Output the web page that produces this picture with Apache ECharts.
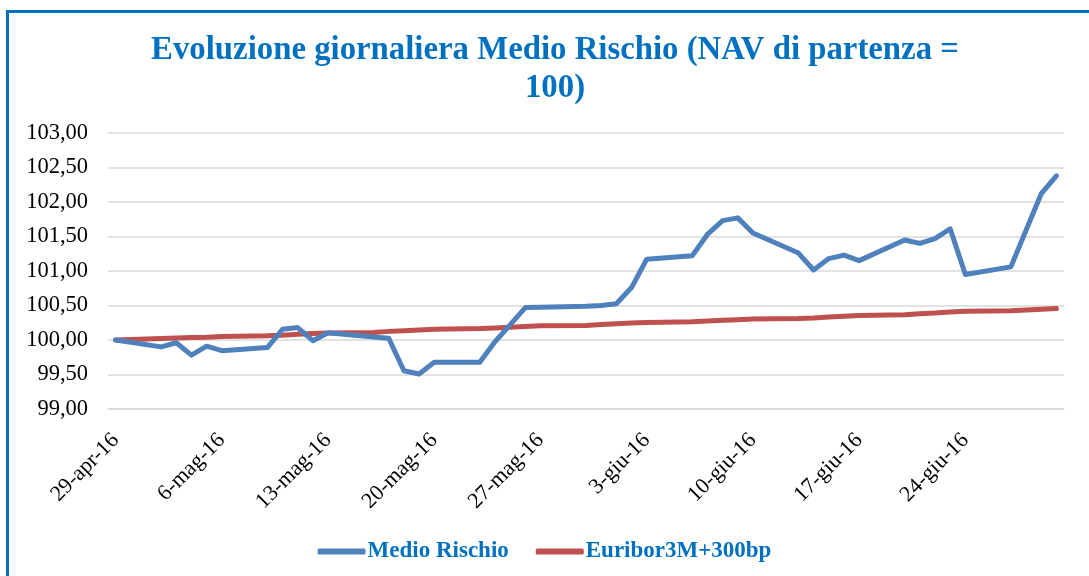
<!DOCTYPE html>
<html>
<head>
<meta charset="utf-8">
<script src="https://cdn.jsdelivr.net/npm/echarts@6/dist/echarts.min.js"></script>
<style>
html,body{margin:0;padding:0;background:#fff;}
#chart{width:1089px;height:576px;}
</style>
</head>
<body>
<div id="chart"></div>
<script>
// Trading days (x values)
const dates = [
  '2016-04-29','2016-05-02','2016-05-03','2016-05-04','2016-05-05','2016-05-06',
  '2016-05-09','2016-05-10','2016-05-11','2016-05-12','2016-05-13',
  '2016-05-16','2016-05-17','2016-05-18','2016-05-19','2016-05-20',
  '2016-05-23','2016-05-24','2016-05-25','2016-05-26','2016-05-27',
  '2016-05-30','2016-05-31','2016-06-01','2016-06-02','2016-06-03',
  '2016-06-06','2016-06-07','2016-06-08','2016-06-09','2016-06-10',
  '2016-06-13','2016-06-14','2016-06-15','2016-06-16','2016-06-17',
  '2016-06-20','2016-06-21','2016-06-22','2016-06-23','2016-06-24',
  '2016-06-27','2016-06-28','2016-06-29','2016-06-30'
];
const medioRischio = [
  100.00, 99.90, 99.96, 99.78, 99.91, 99.845,
  99.89, 100.155, 100.18, 99.99, 100.105,
  100.045, 100.025, 99.555, 99.507, 99.677,
  99.677, 99.975, 100.22, 100.47, 100.475,
  100.49, 100.50, 100.525, 100.76, 101.17,
  101.22, 101.53, 101.73, 101.77, 101.55,
  101.26, 101.015, 101.18, 101.23, 101.15,
  101.45, 101.40, 101.47, 101.61, 100.95,
  101.06, 101.59, 102.12, 102.38
];
const euribor = [
  100.00, 100.02, 100.03, 100.035, 100.04, 100.05,
  100.06, 100.07, 100.085, 100.095, 100.10,
  100.11, 100.125, 100.135, 100.145, 100.155,
  100.165, 100.175, 100.185, 100.195, 100.205,
  100.21, 100.225, 100.235, 100.245, 100.255,
  100.265, 100.275, 100.285, 100.295, 100.305,
  100.31, 100.32, 100.335, 100.345, 100.355,
  100.365, 100.38, 100.39, 100.405, 100.415,
  100.425, 100.435, 100.445, 100.455
];
const seriesNames = ['Medio Rischio', 'Euribor3M+300bp'];
const monthNames = ['gen','feb','mar','apr','mag','giu','lug','ago','set','ott','nov','dic'];
const titleText = 'Evoluzione giornaliera Medio Rischio (NAV di partenza =\n100)';

// Calendar-day categories (date axis like Excel)
const calendar = [];
{
  const start = new Date(dates[0] + 'T00:00:00Z');
  const end = new Date(dates[dates.length - 1] + 'T00:00:00Z');
  for (let t = start.getTime(); t <= end.getTime(); t += 86400000) {
    calendar.push(new Date(t).toISOString().slice(0, 10));
  }
}
function fmtDate(s) {
  const p = s.split('-');
  return (+p[2]) + '-' + monthNames[+p[1] - 1] + '-' + p[0].slice(2);
}

const chart = echarts.init(document.getElementById('chart'), null, {renderer: 'canvas'});
const serif = '"Liberation Serif", "Times New Roman", serif';
chart.setOption({
  animation: false,
  backgroundColor: '#ffffff',
  title: {
    text: titleText,
    left: 550,
    top: 27,
    textAlign: 'center',
    textStyle: {
      fontFamily: serif,
      fontWeight: 'bold',
      fontSize: 32.8,
      lineHeight: 38,
      color: '#0070C0'
    }
  },
  graphic: [{
    type: 'rect',
    shape: {x: 7.5, y: 11.5, width: 1100, height: 620},
    style: {fill: 'none', stroke: '#0070C0', lineWidth: 3},
    silent: true,
    z: 100
  }],
  legend: {
    data: seriesNames,
    left: 'center',
    top: 535,
    icon: 'roundRect',
    itemWidth: 48,
    itemHeight: 6,
    itemGap: 27,
    textStyle: {
      fontFamily: serif,
      fontWeight: 'bold',
      fontSize: 23,
      color: '#0070C0',
      padding: [0, 0, 0, -3]
    }
  },
  grid: {left: 108, right: 25, top: 133, bottom: 167, containLabel: false},
  xAxis: {
    type: 'category',
    data: calendar,
    boundaryGap: true,
    axisLine: {show: true, lineStyle: {color: '#D9D9D9', width: 1.5}},
    axisTick: {show: false},
    splitLine: {show: false},
    axisLabel: {
      interval: 6,
      rotate: 45,
      margin: 28,
      fontFamily: serif,
      fontSize: 22,
      color: '#000000',
      formatter: fmtDate
    }
  },
  yAxis: {
    type: 'value',
    min: 99,
    max: 103,
    interval: 0.5,
    axisLine: {show: false},
    axisTick: {show: false},
    splitLine: {lineStyle: {color: '#D9D9D9', width: 1.5}},
    axisLabel: {
      margin: 20,
      fontFamily: serif,
      fontSize: 22.5,
      color: '#000000',
      formatter: v => v.toFixed(2).replace('.', ',')
    }
  },
  series: [
    {
      name: seriesNames[0],
      type: 'line',
      data: dates.map((d, i) => [d, medioRischio[i]]),
      showSymbol: false,
      symbol: 'none',
      connectNulls: true,
      lineStyle: {color: '#4F81BD', width: 5, cap: 'round', join: 'round'},
      itemStyle: {color: '#4F81BD'},
      z: 3
    },
    {
      name: seriesNames[1],
      type: 'line',
      data: dates.map((d, i) => [d, euribor[i]]),
      showSymbol: false,
      symbol: 'none',
      connectNulls: true,
      lineStyle: {color: '#C0504D', width: 5, cap: 'round', join: 'round'},
      itemStyle: {color: '#C0504D'},
      z: 2
    }
  ]
});
</script>
</body>
</html>
